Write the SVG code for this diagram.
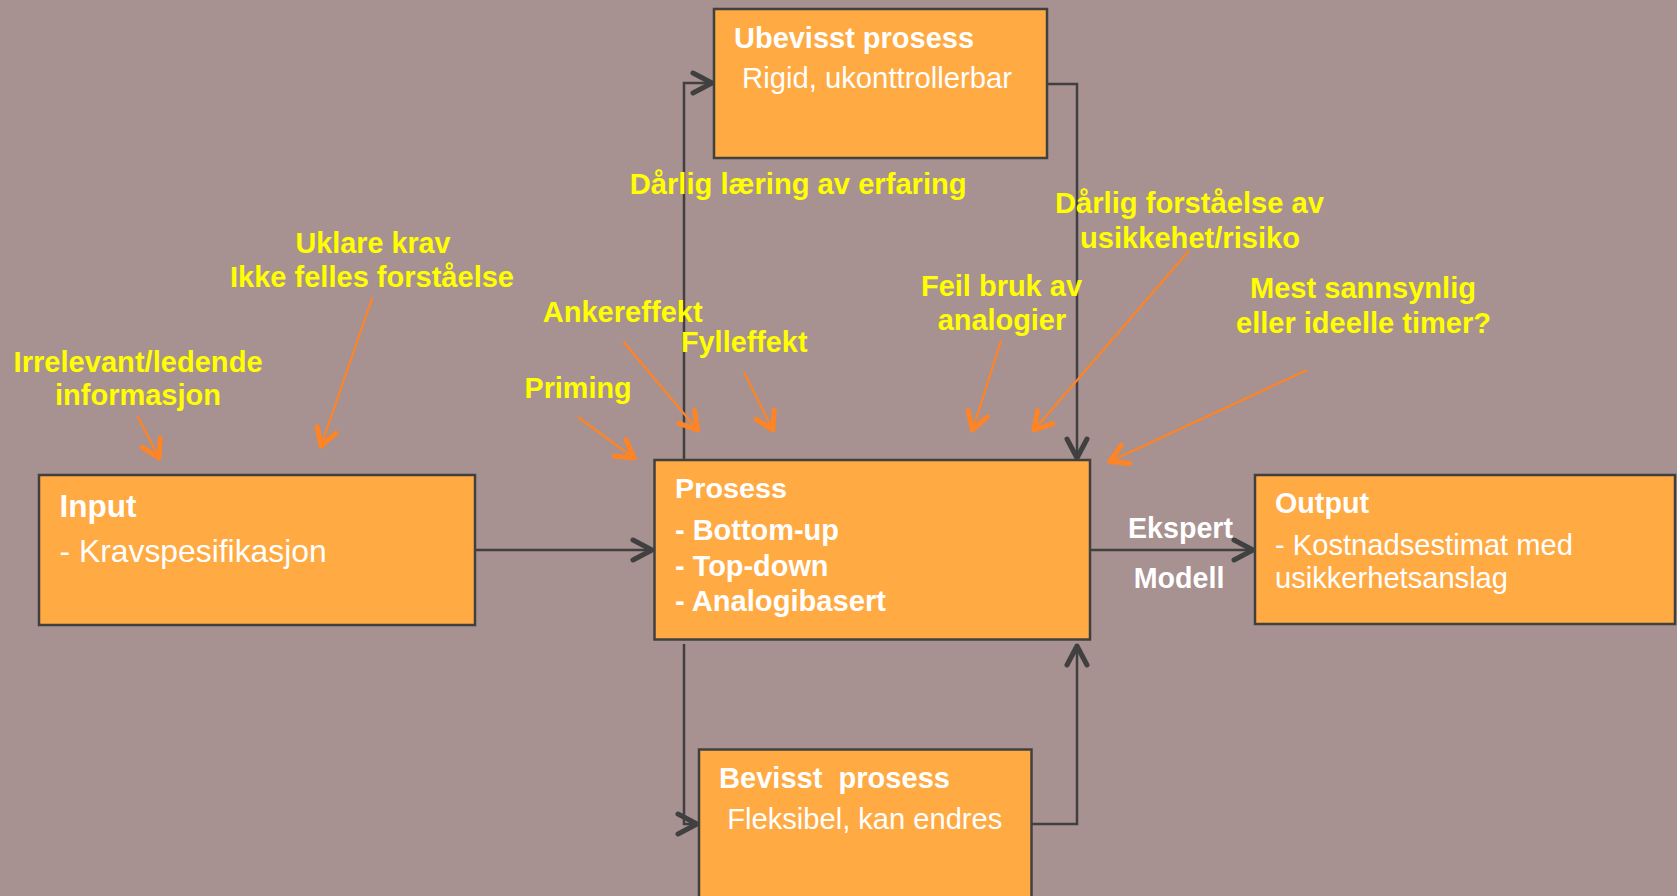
<svg xmlns="http://www.w3.org/2000/svg" width="1677" height="896" viewBox="0 0 1677 896">
<style>
.box{fill:#FFAA42;stroke:#404040;stroke-width:2.5}
.con{fill:none;stroke:#404040;stroke-width:2.5}
.oar{fill:none;stroke:#FF8424;stroke-width:2.2}
.t{font-family:"Liberation Sans",Arial,sans-serif;font-size:29px;fill:#FFFFFF}
.b{font-weight:bold}
.y{font-family:"Liberation Sans",Arial,sans-serif;font-size:30px;font-weight:bold;fill:#FFFF00}
</style>
<defs>
<marker id="dk" markerUnits="userSpaceOnUse" viewBox="-24 -14 30 28" refX="0" refY="0" markerWidth="30" markerHeight="28" orient="auto" overflow="visible">
<path d="M-19,-10 L0,0 L-19,10" fill="none" stroke="#404040" stroke-width="5" stroke-linecap="round" stroke-linejoin="round"/>
</marker>
<marker id="or" markerUnits="userSpaceOnUse" viewBox="-24 -14 30 28" refX="0" refY="0" markerWidth="30" markerHeight="28" orient="auto" overflow="visible">
<path d="M-17,-10 L0,0 L-17,10" fill="none" stroke="#FF8424" stroke-width="5" stroke-linecap="round" stroke-linejoin="round"/>
</marker>
</defs>
<rect x="0" y="0" width="1677" height="896" fill="#A89191"/>

<g id="connectors">
<path class="con" d="M475,550 H652" marker-end="url(#dk)"/>
<path class="con" d="M1090,550 H1253" marker-end="url(#dk)"/>
<path class="con" d="M684,460 V83 H712" marker-end="url(#dk)"/>
<path class="con" d="M1047,84 H1077 V458" marker-end="url(#dk)"/>
<path class="con" d="M684,644 V824 H697" marker-end="url(#dk)"/>
<path class="con" d="M1032,824 H1077 V646" marker-end="url(#dk)"/>
<line class="oar" x1="137.5" y1="416" x2="159" y2="458" marker-end="url(#or)"/>
<line class="oar" x1="372.5" y1="297" x2="321" y2="446" marker-end="url(#or)"/>
<line class="oar" x1="578" y1="417" x2="634" y2="458" marker-end="url(#or)"/>
<line class="oar" x1="623.4" y1="341.7" x2="697.7" y2="430" marker-end="url(#or)"/>
<line class="oar" x1="744" y1="372.3" x2="772.8" y2="430" marker-end="url(#or)"/>
<line class="oar" x1="1001" y1="340.7" x2="972.5" y2="430" marker-end="url(#or)"/>
<line class="oar" x1="1189" y1="250.7" x2="1034" y2="430" marker-end="url(#or)"/>
<line class="oar" x1="1306.8" y1="370" x2="1110" y2="461.5" marker-end="url(#or)"/>
<text class="t b" x="1128" y="538.3" textLength="105" lengthAdjust="spacingAndGlyphs">Ekspert</text>
<text class="t b" x="1133.7" y="588.3" textLength="90.7" lengthAdjust="spacingAndGlyphs">Modell</text>
</g>

<g id="ubevisst">
<rect class="box" x="714" y="9" width="333" height="149"/>
<text class="t b" x="734" y="48.3" textLength="240" lengthAdjust="spacingAndGlyphs">Ubevisst prosess</text>
<text class="t" x="742" y="88.3" textLength="270" lengthAdjust="spacingAndGlyphs">Rigid, ukonttrollerbar</text>
</g>

<g id="input">
<rect class="box" x="39" y="475" width="436" height="150"/>
<text class="t b" x="59.6" y="516.7" style="font-size:31px" textLength="77" lengthAdjust="spacingAndGlyphs">Input</text>
<text class="t" x="59.6" y="561.7" style="font-size:32px" textLength="267" lengthAdjust="spacingAndGlyphs">- Kravspesifikasjon</text>
</g>

<g id="prosess">
<rect class="box" x="654.5" y="460" width="435.5" height="179.5"/>
<text class="t b" x="675" y="498.3" style="font-size:28px" textLength="112" lengthAdjust="spacingAndGlyphs">Prosess</text>
<text class="t b" x="675" y="540" textLength="164" lengthAdjust="spacingAndGlyphs">- Bottom-up</text>
<text class="t b" x="675" y="576" textLength="153.5" lengthAdjust="spacingAndGlyphs">- Top-down</text>
<text class="t b" x="675" y="610.7" textLength="211" lengthAdjust="spacingAndGlyphs">- Analogibasert</text>
</g>

<g id="output">
<rect class="box" x="1255" y="475" width="420" height="149"/>
<text class="t b" x="1275" y="513.3" textLength="94" lengthAdjust="spacingAndGlyphs">Output</text>
<text class="t" x="1275" y="555" textLength="298" lengthAdjust="spacingAndGlyphs">- Kostnadsestimat med</text>
<text class="t" x="1275" y="588.3" textLength="233" lengthAdjust="spacingAndGlyphs">usikkerhetsanslag</text>
</g>

<g id="bevisst">
<rect class="box" x="699" y="749.5" width="332.5" height="160"/>
<text class="t b" x="719" y="788.3" xml:space="preserve" style="white-space:pre" textLength="231" lengthAdjust="spacingAndGlyphs">Bevisst  prosess</text>
<text class="t" x="727.3" y="829.3" textLength="275" lengthAdjust="spacingAndGlyphs">Fleksibel, kan endres</text>
</g>

<g id="labels">
<text class="y" x="295.6" y="253" textLength="155" lengthAdjust="spacingAndGlyphs">Uklare krav</text>
<text class="y" x="230" y="287" textLength="284" lengthAdjust="spacingAndGlyphs">Ikke felles forståelse</text>
<text class="y" x="13.6" y="372" textLength="249" lengthAdjust="spacingAndGlyphs">Irrelevant/ledende</text>
<text class="y" x="55" y="405" textLength="166" lengthAdjust="spacingAndGlyphs">informasjon</text>
<text class="y" x="629.7" y="193.5" textLength="337" lengthAdjust="spacingAndGlyphs">Dårlig læring av erfaring</text>
<text class="y" x="542.7" y="321.7" textLength="160" lengthAdjust="spacingAndGlyphs">Ankereffekt</text>
<text class="y" x="681" y="351.7" textLength="126.5" lengthAdjust="spacingAndGlyphs">Fylleffekt</text>
<text class="y" x="524.5" y="398.3" textLength="107" lengthAdjust="spacingAndGlyphs">Priming</text>
<text class="y" x="921" y="296" textLength="161" lengthAdjust="spacingAndGlyphs">Feil bruk av</text>
<text class="y" x="937.7" y="330" textLength="128.5" lengthAdjust="spacingAndGlyphs">analogier</text>
<text class="y" x="1055" y="213.3" textLength="269" lengthAdjust="spacingAndGlyphs">Dårlig forståelse av</text>
<text class="y" x="1080" y="248.3" textLength="220" lengthAdjust="spacingAndGlyphs">usikkehet/risiko</text>
<text class="y" x="1250" y="298.3" textLength="226" lengthAdjust="spacingAndGlyphs">Mest sannsynlig</text>
<text class="y" x="1236" y="333.3" textLength="255" lengthAdjust="spacingAndGlyphs">eller ideelle timer?</text>
</g>
</svg>
